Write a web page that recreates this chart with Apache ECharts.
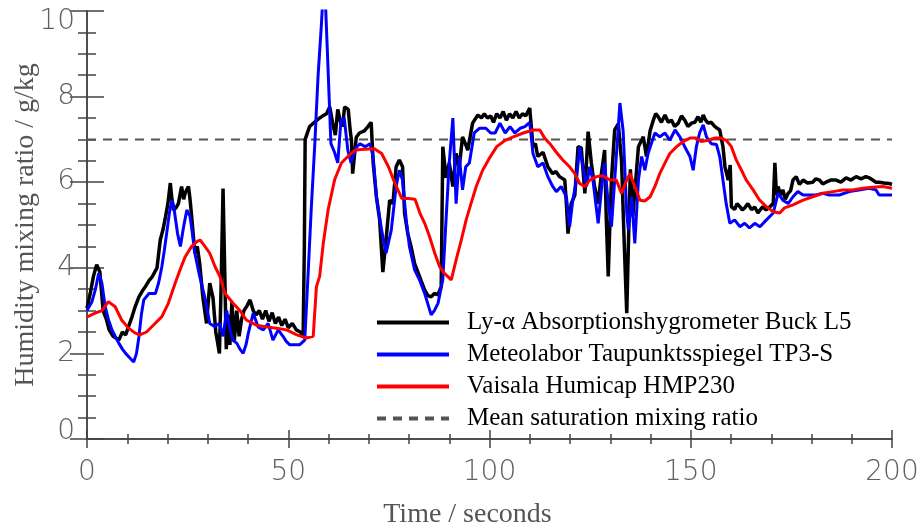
<!DOCTYPE html>
<html>
<head>
<meta charset="utf-8">
<script src="https://cdn.jsdelivr.net/npm/echarts@6/dist/echarts.min.js"></script>
<style>
  html, body { margin: 0; padding: 0; background: #fff; }
  #chart { width: 922px; height: 525px; }
</style>
</head>
<body>
<div id="chart"></div>
<script>
// values (time in s, mixing ratio in g/kg)
const lyaTime = [0, 0.8, 1.6, 2.4, 3.2, 4.0, 4.8, 5.5, 6.5, 7.9, 8.8, 9.6, 10.4, 11.2, 12.0, 12.9, 13.7, 14.5, 15.4, 16.2, 17.4, 18.2, 18.9, 19.5, 20.1, 20.7, 21.1, 21.5, 22.1, 22.7, 23.5, 24.0, 24.4, 25.2, 25.6, 26.0, 26.8, 27.4, 28.0, 28.8, 29.7, 30.5, 31.3, 32.0, 32.9, 33.3, 33.8, 34.2, 34.6, 35.0, 35.5, 36.0, 36.6, 37.2, 37.8, 38.4, 39.0, 39.7, 40.5, 41.3, 42.0, 42.8, 43.6, 44.4, 45.2, 46.0, 46.8, 47.6, 48.4, 49.2, 50.0, 51.0, 52.0, 53.0, 53.7, 54.0, 54.2, 55.3, 56.5, 57.8, 58.6, 59.5, 60.3, 61.0, 61.7, 62.3, 63.0, 63.5, 64.0, 64.9, 65.4, 65.7, 66.0, 66.9, 67.7, 68.9, 69.8, 70.6, 71.1, 71.9, 72.7, 73.5, 74.3, 75.2, 76.0, 76.8, 77.6, 78.4, 78.9, 79.7, 80.5, 81.4, 82.2, 83.0, 83.9, 84.7, 85.5, 86.3, 87.2, 88.0, 88.4, 89.2, 90.0, 90.9, 91.7, 92.5, 93.3, 94.0, 94.6, 95.8, 97.1, 98.0, 98.7, 99.5, 100.3, 101.0, 101.8, 102.6, 103.4, 104.2, 105.0, 105.8, 106.6, 107.4, 108.2, 109.0, 110.0, 110.8, 111.4, 112.0, 113.3, 114.5, 115.7, 116.5, 117.4, 118.7, 119.1, 119.5, 120.3, 121.2, 122.0, 122.8, 123.7, 124.5, 125.3, 126.1, 127.0, 127.8, 128.6, 129.0, 129.5, 129.9, 130.3, 131.1, 132.0, 132.8, 133.5, 134.1, 134.5, 135.0, 135.6, 136.3, 137.0, 138.2, 139.0, 139.9, 140.7, 141.3, 141.9, 142.7, 143.6, 144.4, 145.2, 146.0, 146.9, 147.7, 148.5, 149.3, 150.2, 151.0, 151.8, 152.5, 153.1, 153.7, 154.3, 155.1, 156.0, 157.2, 158.0, 158.5, 159.3, 159.8, 160.1, 160.9, 161.5, 162.2, 162.8, 163.4, 164.2, 165.1, 165.9, 166.7, 167.3, 167.9, 168.7, 169.7, 170.5, 170.9, 171.3, 171.7, 172.3, 172.9, 173.5, 174.2, 174.8, 175.4, 176.2, 177.0, 177.9, 179.0, 180.3, 181.1, 182.0, 182.8, 183.6, 184.8, 186.1, 187.3, 188.6, 189.8, 191.1, 192.3, 193.5, 194.4, 195.2, 196.0, 196.8, 198.0, 199.3, 200];
const lyaVal = [3.05, 3.4, 3.8, 4.07, 3.9, 3.0, 2.8, 2.55, 2.4, 2.31, 2.5, 2.43, 2.65, 2.86, 3.1, 3.32, 3.45, 3.56, 3.7, 3.79, 4.0, 4.65, 4.9, 5.19, 5.5, 5.98, 5.6, 5.35, 5.4, 5.5, 5.9, 5.6, 5.75, 5.9, 5.6, 5.2, 4.34, 4.5, 4.1, 3.3, 2.7, 3.64, 3.3, 2.5, 2.0, 3.5, 5.85, 4.0, 2.1, 2.9, 2.2, 3.2, 2.3, 3.0, 2.4, 2.8, 3.0, 3.1, 3.25, 3.0, 2.9, 3.0, 2.8, 3.0, 2.75, 2.95, 2.7, 2.85, 2.65, 2.8, 2.6, 2.7, 2.55, 2.5, 2.4, 4.5, 7.0, 7.3, 7.4, 7.5, 7.55, 7.6, 7.76, 7.4, 7.1, 7.7, 7.4, 7.3, 7.76, 7.7, 7.2, 6.98, 6.2, 7.05, 7.15, 7.2, 7.3, 7.4, 6.45, 5.66, 5.12, 3.9, 4.65, 5.58, 5.5, 6.36, 6.52, 6.36, 5.28, 4.8, 4.5, 4.1, 3.9, 3.7, 3.48, 3.35, 3.32, 3.4, 3.37, 3.56, 6.83, 6.1, 6.45, 5.9, 6.67, 6.36, 7.06, 6.9, 6.75, 7.38, 7.57, 7.5, 7.6, 7.5, 7.55, 7.4, 7.6, 7.5, 7.65, 7.45, 7.6, 7.5, 7.65, 7.5, 7.6, 7.55, 7.73, 6.83, 6.9, 6.6, 6.7, 6.36, 6.2, 6.25, 6.13, 6.05, 5.5, 4.8, 5.5, 5.7, 6.83, 6.8, 5.74, 7.18, 6.45, 5.9, 5.5, 6.2, 6.75, 5.2, 3.8, 5.0, 6.05, 7.22, 7.36, 6.5, 4.5, 2.94, 4.5, 6.3, 5.2, 6.0, 6.83, 7.06, 6.6, 7.2, 7.45, 7.6, 7.53, 7.4, 7.57, 7.4, 7.45, 7.3, 7.38, 7.55, 7.45, 7.3, 7.38, 7.4, 7.53, 7.4, 7.57, 7.45, 7.38, 7.4, 7.3, 7.22, 6.83, 6.36, 6.05, 6.4, 5.43, 5.36, 5.5, 5.43, 5.35, 5.4, 5.5, 5.36, 5.42, 5.28, 5.36, 5.43, 5.35, 5.43, 5.5, 6.45, 5.7, 5.9, 5.7, 5.82, 5.6, 5.74, 5.8, 6.05, 6.13, 5.95, 6.05, 5.98, 6.0, 6.08, 6.05, 5.96, 6.0, 6.05, 6.05, 6.0, 6.1, 6.05, 6.13, 6.08, 6.13, 6.1, 6.05, 6.0, 6.0, 5.98, 5.97, 5.95];

const tp3Time = [0, 1.2, 2.1, 2.9, 3.7, 4.5, 5.3, 6.2, 7.0, 7.9, 8.8, 9.6, 10.6, 11.6, 12.3, 12.9, 13.5, 14.1, 15.4, 17.0, 17.8, 18.6, 19.2, 19.9, 20.5, 21.1, 21.5, 21.9, 22.5, 23.2, 24.0, 24.8, 25.6, 26.2, 26.8, 28.0, 29.3, 30.5, 31.7, 32.9, 33.8, 34.7, 35.5, 36.3, 37.2, 38.0, 38.8, 39.5, 40.1, 41.3, 42.5, 43.8, 45.0, 46.2, 47.5, 48.7, 49.5, 50.4, 51.6, 52.8, 54.1, 54.9, 55.7, 56.6, 57.4, 58.2, 58.6, 59.2, 59.8, 60.6, 61.5, 62.3, 63.1, 63.9, 64.8, 65.6, 66.8, 67.8, 69.1, 70.3, 71.1, 71.9, 73.2, 74.3, 75.6, 76.8, 77.6, 78.4, 79.3, 80.1, 81.4, 82.6, 83.9, 84.7, 85.5, 86.3, 87.2, 88.4, 89.2, 90.0, 90.9, 91.7, 92.5, 93.3, 94.1, 95.0, 96.2, 97.5, 99.1, 100.3, 101.4, 102.6, 103.9, 105.1, 106.3, 107.6, 108.8, 110.0, 110.8, 112.0, 113.3, 114.5, 115.7, 116.6, 117.8, 119.1, 119.9, 120.7, 121.6, 122.4, 123.2, 124.1, 124.9, 125.7, 127.0, 127.8, 128.6, 129.5, 130.3, 131.1, 131.8, 132.4, 133.2, 134.1, 134.5, 135.3, 136.1, 137.0, 137.8, 138.6, 139.4, 140.2, 141.1, 142.3, 143.6, 144.8, 146.1, 147.3, 148.5, 149.8, 150.6, 151.4, 152.2, 153.1, 153.9, 155.1, 156.4, 157.2, 158.0, 158.8, 159.7, 160.9, 162.2, 163.4, 164.6, 165.9, 167.2, 168.8, 170.5, 171.7, 172.9, 174.2, 175.4, 176.6, 177.9, 179.5, 181.1, 182.8, 184.4, 186.9, 189.4, 191.8, 194.3, 196.0, 196.8, 199.3, 200];
const tp3Val = [3.0, 3.2, 3.5, 3.87, 3.64, 3.1, 2.8, 2.55, 2.4, 2.24, 2.1, 2.0, 1.9, 1.8, 2.0, 2.39, 2.9, 3.25, 3.4, 3.4, 3.65, 4.03, 4.4, 4.88, 5.3, 5.58, 5.45, 5.2, 4.8, 4.5, 4.96, 5.35, 5.2, 4.8, 4.34, 3.8, 3.3, 2.7, 2.63, 2.7, 2.4, 3.0, 2.55, 2.3, 2.24, 2.1, 2.0, 2.2, 2.48, 2.94, 2.62, 2.55, 2.7, 2.31, 2.55, 2.4, 2.28, 2.2, 2.2, 2.2, 2.31, 3.8, 5.35, 6.9, 8.47, 9.63, 10.3, 10.3, 8.86, 6.9, 6.7, 6.45, 7.45, 7.5, 6.75, 6.45, 6.8, 6.9, 6.83, 6.9, 6.6, 5.66, 4.88, 4.34, 4.88, 5.9, 6.28, 6.05, 5.12, 4.5, 3.95, 3.72, 3.4, 3.15, 2.9, 3.0, 3.17, 3.72, 5.12, 6.45, 7.5, 5.5, 6.6, 5.82, 6.36, 6.45, 7.15, 7.26, 7.26, 7.15, 7.15, 7.38, 7.15, 7.3, 7.15, 7.26, 7.3, 7.4, 6.67, 6.36, 6.45, 6.13, 5.9, 5.78, 5.9, 5.66, 4.96, 5.58, 6.05, 6.83, 6.36, 5.9, 6.36, 6.05, 5.04, 5.82, 6.45, 5.5, 4.96, 6.05, 7.0, 7.85, 7.2, 5.28, 4.88, 5.66, 4.57, 6.05, 6.6, 6.28, 6.67, 6.9, 7.15, 7.06, 7.15, 6.98, 7.22, 7.06, 6.83, 6.6, 6.28, 6.83, 7.15, 7.34, 7.06, 6.9, 6.88, 6.6, 6.05, 5.5, 5.04, 5.12, 4.96, 5.04, 4.93, 5.04, 4.96, 5.12, 5.28, 5.74, 5.58, 5.5, 5.66, 5.78, 5.7, 5.7, 5.7, 5.74, 5.7, 5.7, 5.78, 5.82, 5.86, 5.82, 5.7, 5.7, 5.7];

const hmpTime = [0, 2.0, 3.7, 5.3, 7.0, 8.6, 10.3, 11.9, 13.1, 14.8, 16.9, 18.6, 20.2, 21.9, 23.1, 24.4, 26.0, 27.3, 28.1, 29.3, 30.5, 31.8, 33.0, 34.3, 36.3, 38.0, 39.6, 42.1, 44.6, 47.1, 49.6, 52.0, 54.5, 56.2, 57.0, 57.8, 58.7, 59.9, 61.5, 63.2, 64.8, 66.6, 69.0, 71.4, 73.2, 74.9, 76.5, 78.2, 79.8, 81.5, 82.7, 83.9, 85.1, 86.4, 87.6, 88.8, 90.5, 91.7, 93.0, 94.2, 95.4, 96.7, 98.3, 99.9, 101.8, 103.9, 105.9, 108.4, 110.8, 112.5, 113.7, 115.0, 116.6, 118.2, 119.9, 121.2, 122.4, 123.7, 124.9, 126.6, 128.2, 129.9, 131.5, 132.8, 134.1, 134.9, 136.1, 137.4, 138.6, 139.9, 141.1, 142.3, 143.6, 144.8, 146.5, 148.1, 149.8, 151.4, 152.6, 154.3, 155.9, 157.6, 158.8, 160.1, 161.3, 162.6, 163.8, 165.5, 167.1, 168.8, 170.5, 172.1, 173.3, 175.4, 177.9, 180.3, 182.8, 185.3, 187.8, 190.2, 192.7, 195.2, 197.7, 200];
const hmpVal = [2.85, 2.94, 3.0, 3.21, 3.09, 2.78, 2.59, 2.48, 2.43, 2.5, 2.7, 2.86, 3.17, 3.64, 3.95, 4.26, 4.5, 4.61, 4.65, 4.5, 4.34, 4.03, 3.8, 3.4, 3.17, 3.0, 2.78, 2.66, 2.62, 2.59, 2.55, 2.44, 2.36, 2.4, 3.56, 3.8, 4.57, 5.35, 6.05, 6.45, 6.6, 6.75, 6.77, 6.78, 6.67, 6.36, 5.97, 5.62, 5.62, 5.6, 5.28, 5.04, 4.73, 4.34, 4.03, 3.87, 3.72, 4.18, 4.65, 5.12, 5.5, 5.9, 6.28, 6.55, 6.83, 6.98, 7.06, 7.15, 7.22, 7.22, 7.03, 6.9, 6.7, 6.52, 6.36, 6.2, 5.97, 5.9, 6.05, 6.13, 6.15, 6.05, 6.05, 5.74, 6.05, 6.2, 5.9, 5.58, 5.56, 5.66, 5.9, 6.2, 6.45, 6.67, 6.83, 6.95, 7.03, 7.03, 6.95, 6.98, 7.03, 7.03, 6.98, 6.83, 6.52, 6.28, 6.05, 5.82, 5.58, 5.43, 5.31, 5.28, 5.4, 5.47, 5.58, 5.66, 5.74, 5.78, 5.82, 5.82, 5.86, 5.88, 5.9, 5.86];

const satTime = [0, 200];
const satVal = [7, 7];

const names = [
  'Ly-α Absorptionshygrometer Buck L5',
  'Meteolabor Taupunktsspiegel TP3-S',
  'Vaisala Humicap HMP230',
  'Mean saturation mixing ratio'
];

const zip = (ts, vs) => ts.map((t, i) => [t, vs[i]]);

const axisCol = '#444';
const labelFont = { fontFamily: 'DejaVu Sans', fontWeight: 200, fontSize: 28, color: '#606060' };

const chart = echarts.init(document.getElementById('chart'));
const option = {
  animation: false,
  grid: { left: 87, right: 30, top: 11, bottom: 86, outerBoundsMode: 'none', containLabel: false },
  legend: {
    data: names,
    orient: 'vertical',
    left: 370,
    top: 305,
    itemWidth: 72,
    itemHeight: 14,
    itemGap: 7,
    itemStyle: { opacity: 0 },
    lineStyle: { width: 4 },
    textStyle: { fontFamily: 'Liberation Serif', fontSize: 25, color: '#000', padding: [0, 0, 0, 13] }
  },
  xAxis: [
    {
      type: 'value', min: 0, max: 200, interval: 50,
      name: 'Time / seconds', nameLocation: 'middle', nameGap: 62, nameMoveOverlap: false,
      nameTextStyle: { fontFamily: 'Liberation Serif', fontSize: 28, color: '#555', padding: [0, 44, 0, 0] },
      axisLine: { lineStyle: { color: axisCol, width: 1.5 } },
      axisTick: { inside: true, length: 9, lineStyle: { color: axisCol, width: 1.5 } },
      minorTick: { show: true, splitNumber: 5, length: 5, lineStyle: { color: axisCol, width: 1.5 } },
      axisLabel: Object.assign({ margin: 20 }, labelFont),
      splitLine: { show: false }
    },
    {
      type: 'value', min: 0, max: 200, interval: 50, position: 'top',
      axisLine: { lineStyle: { color: axisCol, width: 1.5 } },
      axisTick: { inside: true, length: 9, lineStyle: { color: axisCol, width: 1.5 } },
      minorTick: { show: true, splitNumber: 5, length: 5, lineStyle: { color: axisCol, width: 1.5 } },
      axisLabel: { show: false },
      splitLine: { show: false }
    }
  ],
  yAxis: [
    {
      type: 'value', min: 0, max: 10, interval: 2,
      name: 'Humidity mixing ratio / g/kg', nameLocation: 'middle', nameGap: 47, nameMoveOverlap: false,
      nameTextStyle: { fontFamily: 'Liberation Serif', fontSize: 28, color: '#555' },
      axisLine: { lineStyle: { color: axisCol, width: 1.5 } },
      axisTick: { inside: true, length: 17, lineStyle: { color: axisCol, width: 1.5 } },
      minorTick: { show: true, splitNumber: 4, length: 9, lineStyle: { color: axisCol, width: 1.5 } },
      axisLabel: Object.assign({
        margin: 12,
        // end labels sit a little inside the axis range, as in the original
        formatter: v => v === 10 ? '{hi|10}' : (v === 0 ? '{lo|0}' : String(v)),
        rich: {
          hi: Object.assign({ padding: [22, 0, 0, 0] }, labelFont),
          lo: Object.assign({ padding: [0, 0, 14, 0] }, labelFont)
        }
      }, labelFont),
      splitLine: { show: false }
    },
    {
      type: 'value', min: 0, max: 10, interval: 2, position: 'right',
      axisLine: { lineStyle: { color: axisCol, width: 1.5 } },
      axisTick: { inside: true, length: 17, lineStyle: { color: axisCol, width: 1.5 } },
      minorTick: { show: true, splitNumber: 4, length: 9, lineStyle: { color: axisCol, width: 1.5 } },
      axisLabel: { show: false },
      splitLine: { show: false }
    }
  ],
  series: [
    {
      name: names[3], type: 'line', symbol: 'none', z: 1,
      data: zip(satTime, satVal),
      lineStyle: { color: '#555', width: 2, type: [9, 7] },
      itemStyle: { color: '#555' }
    },
    {
      name: names[0], type: 'line', symbol: 'none', z: 2,
      data: zip(lyaTime, lyaVal),
      lineStyle: { color: '#000', width: 3.5 },
      itemStyle: { color: '#000' }
    },
    {
      name: names[1], type: 'line', symbol: 'none', z: 3,
      data: zip(tp3Time, tp3Val),
      lineStyle: { color: '#0000ff', width: 3 },
      itemStyle: { color: '#0000ff' }
    },
    {
      name: names[2], type: 'line', symbol: 'none', z: 4,
      data: zip(hmpTime, hmpVal),
      lineStyle: { color: '#ff0000', width: 3 },
      itemStyle: { color: '#ff0000' }
    }
  ]
};
chart.setOption(option);
</script>
</body>
</html>
